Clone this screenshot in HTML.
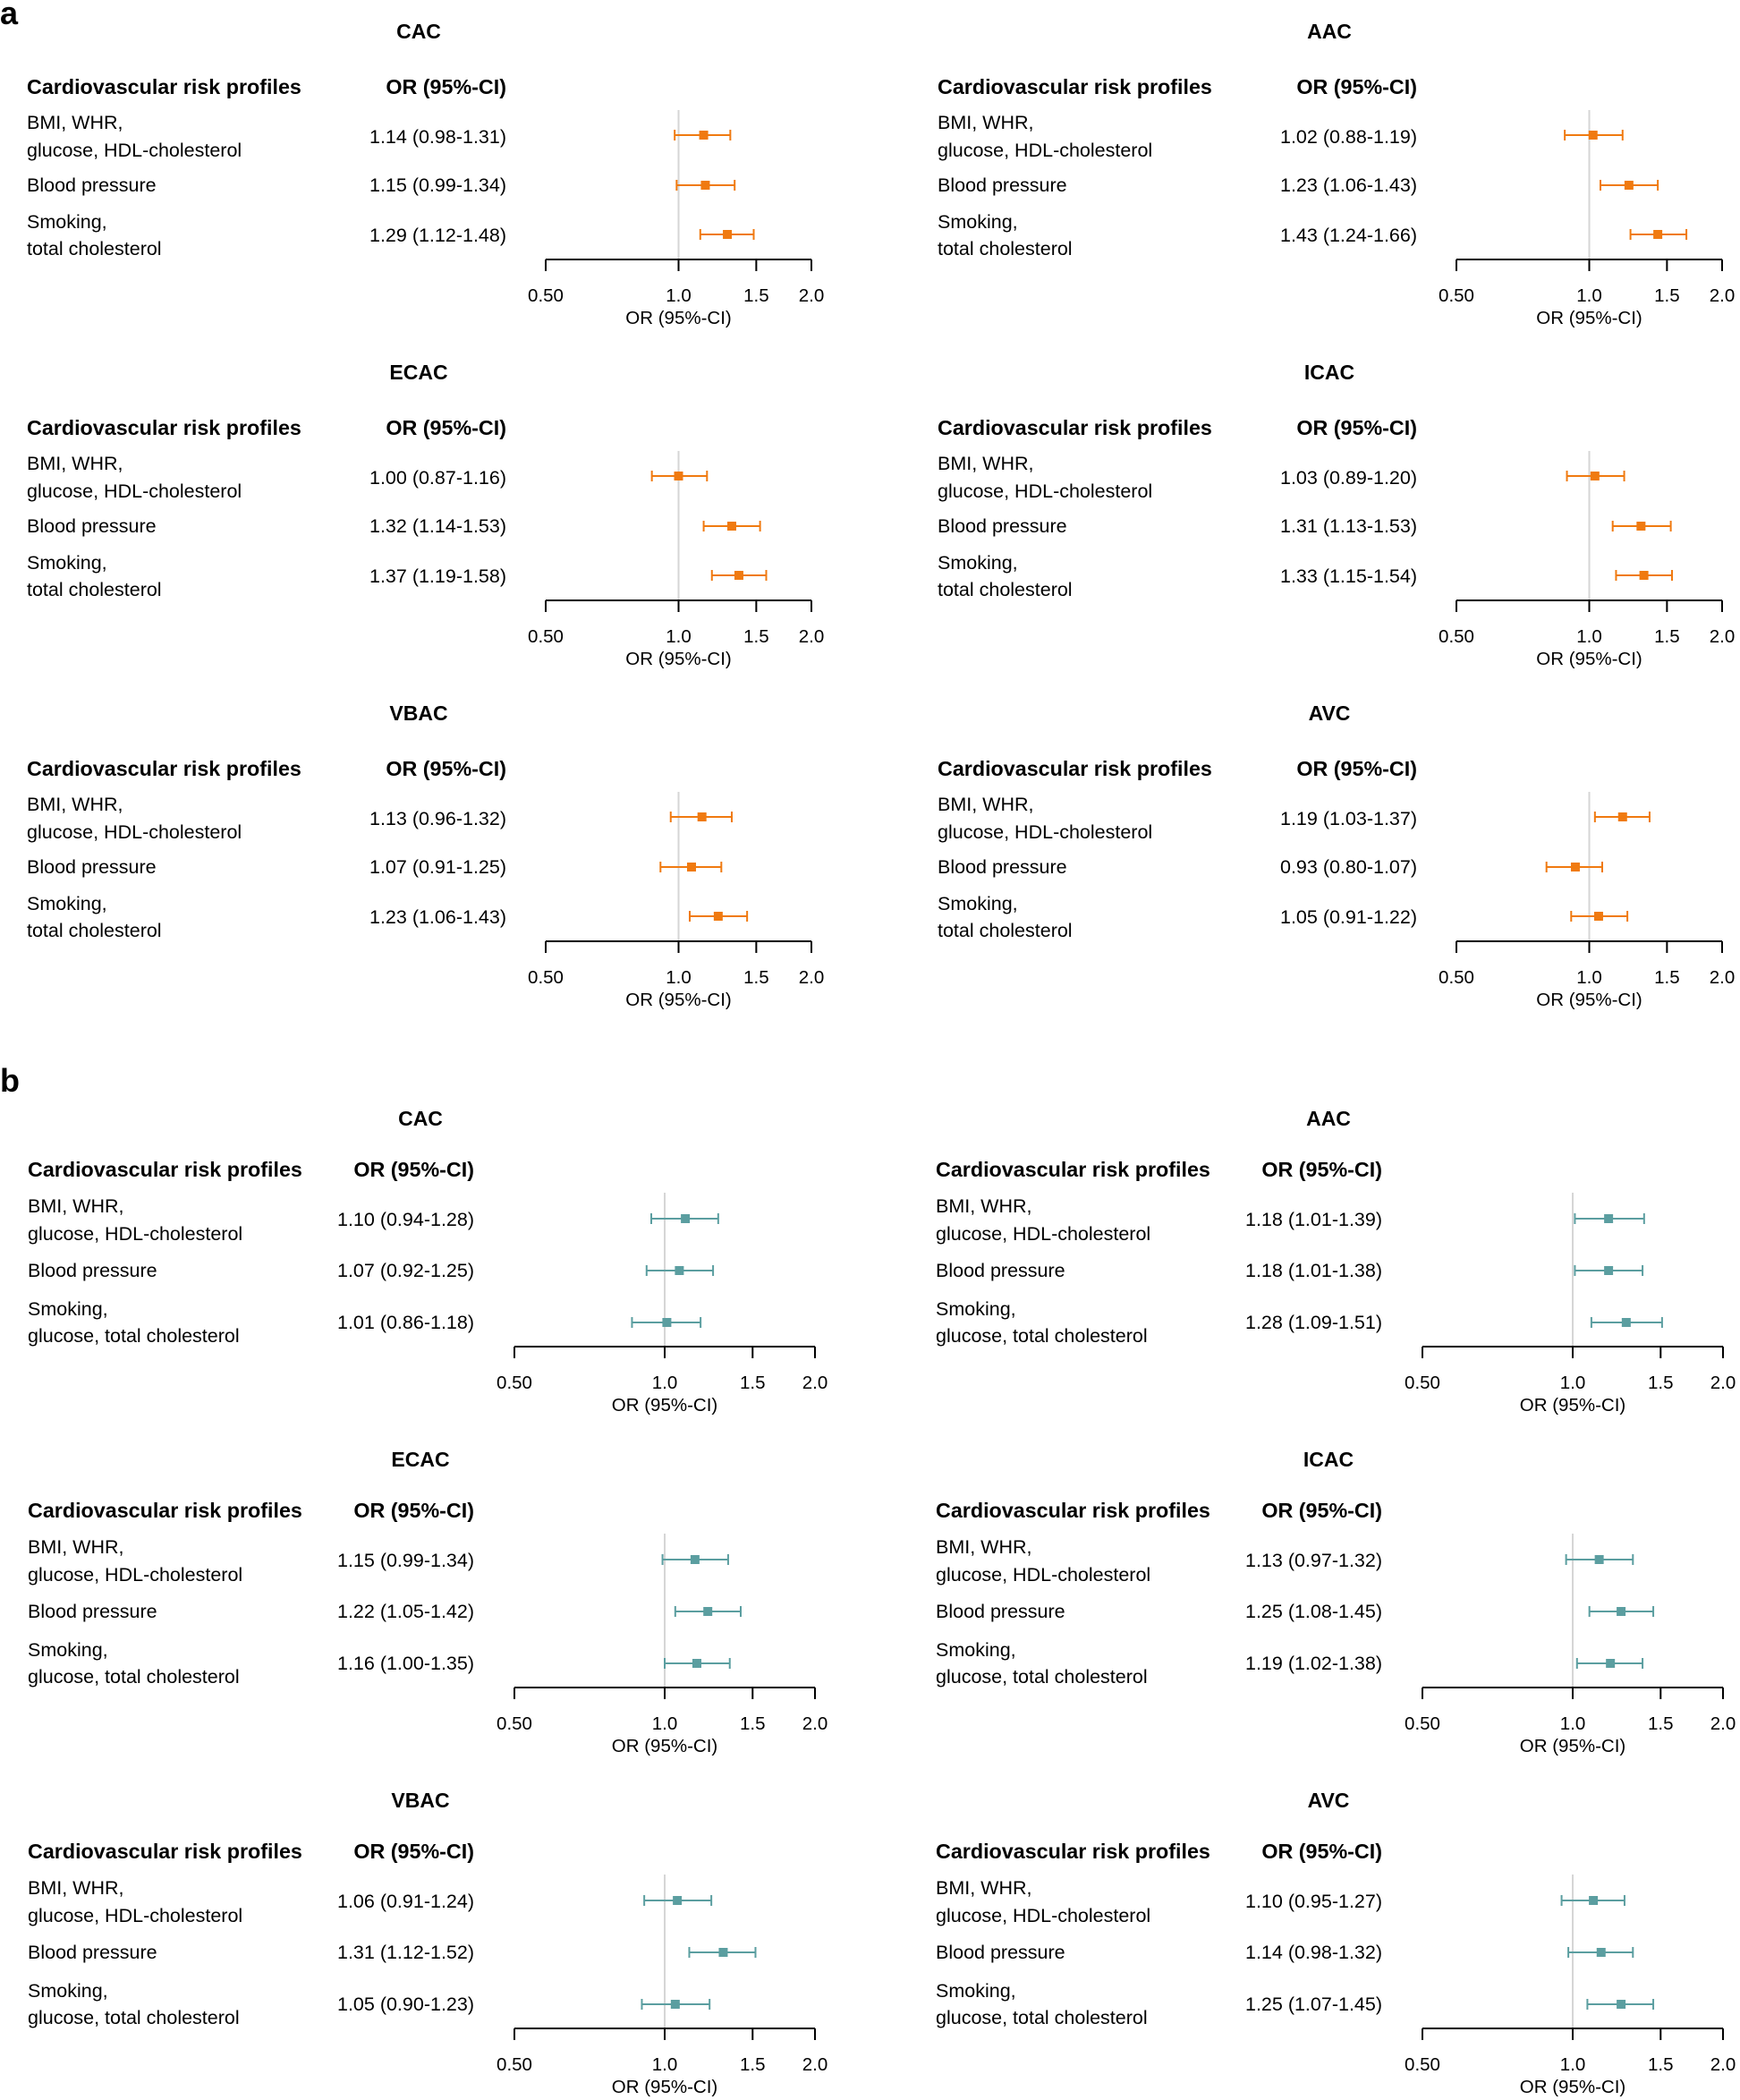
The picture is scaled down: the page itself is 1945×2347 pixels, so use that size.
<!DOCTYPE html>
<html><head><meta charset="utf-8">
<style>
html,body{margin:0;padding:0;background:#fff;}
svg{display:block;font-family:"Liberation Sans",Arial,sans-serif;}
</style></head>
<body>
<svg id="fig" width="1945" height="2347" viewBox="0 0 1945 2347" xmlns="http://www.w3.org/2000/svg"></svg>
<script>
// ---- Data ----
const panelTitles = ["CAC","AAC","ECAC","ICAC","VBAC","AVC"];
const aLabels = [["BMI, WHR,","glucose, HDL-cholesterol"],["Blood pressure"],["Smoking,","total cholesterol"]];
const bLabels = [["BMI, WHR,","glucose, HDL-cholesterol"],["Blood pressure"],["Smoking,","glucose, total cholesterol"]];
const aOR = [[1.14,1.15,1.29],[1.02,1.23,1.43],[1.00,1.32,1.37],[1.03,1.31,1.33],[1.13,1.07,1.23],[1.19,0.93,1.05]];
const aLo = [[0.98,0.99,1.12],[0.88,1.06,1.24],[0.87,1.14,1.19],[0.89,1.13,1.15],[0.96,0.91,1.06],[1.03,0.80,0.91]];
const aHi = [[1.31,1.34,1.48],[1.19,1.43,1.66],[1.16,1.53,1.58],[1.20,1.53,1.54],[1.32,1.25,1.43],[1.37,1.07,1.22]];
const bOR = [[1.10,1.07,1.01],[1.18,1.18,1.28],[1.15,1.22,1.16],[1.13,1.25,1.19],[1.06,1.31,1.05],[1.10,1.14,1.25]];
const bLo = [[0.94,0.92,0.86],[1.01,1.01,1.09],[0.99,1.05,1.00],[0.97,1.08,1.02],[0.91,1.12,0.90],[0.95,0.98,1.07]];
const bHi = [[1.28,1.25,1.18],[1.39,1.38,1.51],[1.34,1.42,1.35],[1.32,1.45,1.38],[1.24,1.52,1.23],[1.27,1.32,1.45]];
const tickValues = [0.5,1.0,1.5,2.0];
const tickLabels = ["0.50","1.0","1.5","2.0"];

const NS="http://www.w3.org/2000/svg";
const svg=document.getElementById('fig');
function mk(tag,attrs,parent){const e=document.createElementNS(NS,tag);for(const k in attrs)e.setAttribute(k,attrs[k]);(parent||svg).appendChild(e);return e;}
function txt(s,attrs,parent){const e=mk('text',attrs,parent);e.textContent=s;return e;}
function fmt(v){return v.toFixed(2);}

const sections=[
 {letter:"a",letterY:27,top:35,labels:aLabels,OR:aOR,LO:aLo,HI:aHi,color:"#F07A10",colOffset:1018,
  titleX:468,textX:30,valRight:566,x05:610,x20:907,headerDy:62,lineDy:[[102,133],[172],[213,243]],valDy:[118,172,228],markDy:[116,172,227],refTop:88},
 {letter:"b",letterY:1220,top:1250,labels:bLabels,OR:bOR,LO:bLo,HI:bHi,color:"#5B9EA0",colOffset:1015,
  titleX:470,textX:31,valRight:530,x05:575,x20:911,headerDy:57,lineDy:[[98,129],[170],[213,243]],valDy:[113,170,228],markDy:[112,170,228],refTop:83}
];
const rowGap=381;

sections.forEach(sec=>{
  const L=txt(sec.letter,{x:0,y:sec.letterY,'font-size':36,'font-weight':'bold'});
  
  
  panelTitles.forEach((title,p)=>{
    const ox=(p%2)*sec.colOffset, oy=sec.top+Math.floor(p/2)*rowGap;
    const g=mk('g',{});
    
    
    const xs=v=>ox+sec.x05+(Math.log2(v)+1)*(sec.x20-sec.x05)/2;
    const t=txt(title,{x:ox+sec.titleX,y:oy+8,'font-size':23,'font-weight':'bold','text-anchor':'middle'},g);
    
    
    const h1=txt("Cardiovascular risk profiles",{x:ox+sec.textX,y:oy+sec.headerDy+8,'font-size':23.3,'font-weight':'bold'},g);
    
    
    const h2=txt("OR (95%-CI)",{x:ox+sec.valRight,y:oy+sec.headerDy+8,'font-size':23.3,'font-weight':'bold','text-anchor':'end'},g);
    
    
    const ref=mk('line',{x1:xs(1),x2:xs(1),y1:oy+sec.refTop,y2:oy+255,stroke:'#d6d6d6','stroke-width':2},g);
    
    
    for(let r=0;r<3;r++){
      sec.labels[r].forEach((line,li)=>{
        const e=txt(line,{x:ox+sec.textX,y:oy+sec.lineDy[r][li]+7,'font-size':21.5},g);
        
        
      });
      const or=sec.OR[p][r],lo=sec.LO[p][r],hi=sec.HI[p][r];
      const v=txt(fmt(or)+" ("+fmt(lo)+"-"+fmt(hi)+")",{x:ox+sec.valRight,y:oy+sec.valDy[r]+7,'font-size':21.5,'text-anchor':'end'},g);
      
      
      const y=oy+sec.markDy[r];
      const ci=mk('line',{x1:xs(lo),x2:xs(hi),y1:y,y2:y,stroke:sec.color,'stroke-width':2},g);
      
      
      [lo,hi].forEach(c=>{
        const cap=mk('line',{x1:xs(c),x2:xs(c),y1:y-6,y2:y+6,stroke:sec.color,'stroke-width':2},g);
        
        
      });
      const m=mk('rect',{x:xs(or)-5,y:y-5,width:10,height:10,fill:sec.color},g);
      
      
    }
    const ax=mk('line',{x1:xs(0.5),x2:xs(2),y1:oy+255,y2:oy+255,stroke:'#000','stroke-width':2},g);
    
    
    tickValues.forEach((tv,i)=>{
      const tk=mk('line',{x1:xs(tv),x2:xs(tv),y1:oy+255,y2:oy+268,stroke:'#000','stroke-width':2},g);
      
      
      const tl=txt(tickLabels[i],{x:xs(tv),y:oy+302,'font-size':20.5,'text-anchor':'middle'},g);
      
      
    });
    const at=txt("OR (95%-CI)",{x:xs(1),y:oy+327,'font-size':20.5,'text-anchor':'middle'},g);
    
    
  });
});
</script>
</body></html>
